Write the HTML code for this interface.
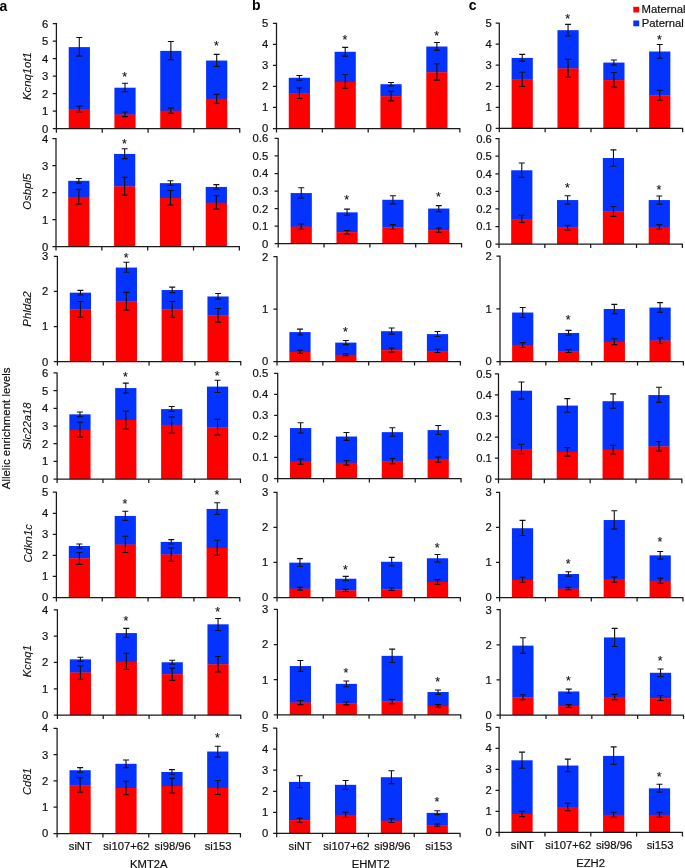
<!DOCTYPE html>
<html lang="en">
<head>
<meta charset="utf-8">
<title>Allelic enrichment levels</title>
<style>
html,body{margin:0;padding:0;background:#fff;}
body{width:685px;height:868px;overflow:hidden;}
svg{display:block;will-change:transform;}
text{font-family:"Liberation Sans",Arial,Helvetica,sans-serif;font-size:11.25px;fill:#111;stroke:#111;stroke-width:0.2px;}
.t{text-anchor:end;}
.x{text-anchor:middle;}
.g{text-anchor:middle;font-style:italic;font-size:11.35px;stroke-width:0.1px;}
.yl{text-anchor:middle;font-size:11.42px;}
.lg{font-size:11.3px;}
.s{text-anchor:middle;font-size:12.5px;stroke-width:0.12px;}
.pl{font-weight:bold;font-size:14px;fill:#000;stroke:none;}
.a{stroke:#1a1a1a;stroke-width:1.25;fill:none;}
.e{stroke:#111;stroke-width:1.1;fill:none;}
</style>
</head>
<body>
<svg width="685" height="868" viewBox="0 0 685 868">
<rect x="0" y="0" width="685" height="868" fill="#fff"/>
<g>
<rect x="68.71" y="47.12" width="21.2" height="62.2" fill="#0432ff"/>
<rect x="68.71" y="109.01" width="21.2" height="19.64" fill="#ff0000"/>
<path d="M79.31 37.48V56.17M76.31 37.48H82.31M76.31 56.17H82.31" class="e"/>
<path d="M79.31 106.09V111.93M76.31 106.09H82.31M76.31 111.93H82.31" class="e"/>
<rect x="114.41" y="87.7" width="21.2" height="27.16" fill="#0432ff"/>
<rect x="114.41" y="114.56" width="21.2" height="14.09" fill="#ff0000"/>
<path d="M125.01 83.32V91.79M122.01 83.32H128.01M122.01 91.79H128.01" class="e"/>
<path d="M125.01 111.93V116.61M122.01 111.93H128.01M122.01 116.61H128.01" class="e"/>
<text x="124.71" y="80.95" class="s">*</text>
<rect x="160.25" y="50.91" width="21.2" height="60.15" fill="#0432ff"/>
<rect x="160.25" y="110.77" width="21.2" height="17.88" fill="#ff0000"/>
<path d="M170.85 41.57V59.67M167.85 41.57H173.85M167.85 59.67H173.85" class="e"/>
<path d="M170.85 108.14V113.39M167.85 108.14H173.85M167.85 113.39H173.85" class="e"/>
<rect x="206.09" y="60.55" width="21.2" height="38.55" fill="#0432ff"/>
<rect x="206.09" y="98.8" width="21.2" height="29.85" fill="#ff0000"/>
<path d="M216.69 54.42V66.39M213.69 54.42H219.69M213.69 66.39H219.69" class="e"/>
<path d="M216.69 94.42V103.18M213.69 94.42H219.69M213.69 103.18H219.69" class="e"/>
<text x="216.39" y="50.3" class="s">*</text>
<path d="M56.4 23.1V129.15M52.8 128.65H240.26M52.8 111.14H56.4M52.8 93.63H56.4M52.8 76.12H56.4M52.8 58.62H56.4M52.8 41.11H56.4M52.8 23.6H56.4M56.4 128.65V132.65M102.24 128.65V132.65M148.08 128.65V132.65M193.92 128.65V132.65M239.76 128.65V132.65" class="a"/>
<text x="48.35" y="132.6" class="t">0</text>
<text x="48.35" y="115.09" class="t">1</text>
<text x="48.35" y="97.58" class="t">2</text>
<text x="48.35" y="80.08" class="t">3</text>
<text x="48.35" y="62.57" class="t">4</text>
<text x="48.35" y="45.06" class="t">5</text>
<text x="48.35" y="27.55" class="t">6</text>
</g>
<g>
<rect x="68.22" y="180.8" width="21.2" height="16.36" fill="#0432ff"/>
<rect x="68.22" y="196.86" width="21.2" height="49.74" fill="#ff0000"/>
<path d="M78.82 178.47V183.14M75.82 178.47H81.82M75.82 183.14H81.82" class="e"/>
<path d="M78.82 189.27V204.16M75.82 189.27H81.82M75.82 204.16H81.82" class="e"/>
<rect x="114.06" y="153.94" width="21.2" height="32.71" fill="#0432ff"/>
<rect x="114.06" y="186.35" width="21.2" height="60.25" fill="#ff0000"/>
<path d="M124.66 148.69V158.61M121.66 148.69H127.66M121.66 158.61H127.66" class="e"/>
<path d="M124.66 177.3V195.11M121.66 177.3H127.66M121.66 195.11H127.66" class="e"/>
<text x="124.36" y="148.36" class="s">*</text>
<rect x="159.9" y="183.14" width="21.2" height="15.19" fill="#0432ff"/>
<rect x="159.9" y="198.03" width="21.2" height="48.57" fill="#ff0000"/>
<path d="M170.5 180.8V185.18M167.5 180.8H173.5M167.5 185.18H173.5" class="e"/>
<path d="M170.5 190.44V205.04M167.5 190.44H173.5M167.5 205.04H173.5" class="e"/>
<rect x="205.74" y="186.93" width="21.2" height="16.07" fill="#0432ff"/>
<rect x="205.74" y="202.7" width="21.2" height="43.9" fill="#ff0000"/>
<path d="M216.34 184.6V189.27M213.34 184.6H219.34M213.34 189.27H219.34" class="e"/>
<path d="M216.34 195.69V209.12M213.34 195.69H219.34M213.34 209.12H219.34" class="e"/>
<path d="M56 138.1V247.1M52.4 246.6H239.86M52.4 219.6H56M52.4 192.6H56M52.4 165.6H56M52.4 138.6H56M56 246.6V250.6M101.84 246.6V250.6M147.68 246.6V250.6M193.52 246.6V250.6M239.36 246.6V250.6" class="a"/>
<text x="48.35" y="250.55" class="t">0</text>
<text x="48.35" y="223.55" class="t">1</text>
<text x="48.35" y="196.55" class="t">2</text>
<text x="48.35" y="169.55" class="t">3</text>
<text x="48.35" y="142.55" class="t">4</text>
</g>
<g>
<rect x="69.8" y="292.67" width="21.2" height="16.94" fill="#0432ff"/>
<rect x="69.8" y="309.31" width="21.2" height="52.29" fill="#ff0000"/>
<path d="M80.4 290.34V295.01M77.4 290.34H83.4M77.4 295.01H83.4" class="e"/>
<path d="M80.4 301.43V317.2M77.4 301.43H83.4M77.4 317.2H83.4" class="e"/>
<rect x="115.78" y="267.56" width="21.2" height="33.88" fill="#0432ff"/>
<rect x="115.78" y="301.14" width="21.2" height="60.46" fill="#ff0000"/>
<path d="M126.38 262.31V272.23M123.38 262.31H129.38M123.38 272.23H129.38" class="e"/>
<path d="M126.38 292.38V310.19M123.38 292.38H129.38M123.38 310.19H129.38" class="e"/>
<text x="126.08" y="261.69" class="s">*</text>
<rect x="161.62" y="290.04" width="21.2" height="19.57" fill="#0432ff"/>
<rect x="161.62" y="309.31" width="21.2" height="52.29" fill="#ff0000"/>
<path d="M172.22 287.12V292.67M169.22 287.12H175.22M169.22 292.67H175.22" class="e"/>
<path d="M172.22 301.43V317.2M169.22 301.43H175.22M169.22 317.2H175.22" class="e"/>
<rect x="207.46" y="296.47" width="21.2" height="19.28" fill="#0432ff"/>
<rect x="207.46" y="315.45" width="21.2" height="46.15" fill="#ff0000"/>
<path d="M218.06 293.55V299.09M215.06 293.55H221.06M215.06 299.09H221.06" class="e"/>
<path d="M218.06 308.44V322.16M215.06 308.44H221.06M215.06 322.16H221.06" class="e"/>
<path d="M57.4 255.9V362.1M53.8 361.6H241.26M53.8 326.53H57.4M53.8 291.47H57.4M53.8 256.4H57.4M57.4 361.6V365.6M103.24 361.6V365.6M149.08 361.6V365.6M194.92 361.6V365.6M240.76 361.6V365.6" class="a"/>
<text x="48.35" y="365.55" class="t">0</text>
<text x="48.35" y="330.48" class="t">1</text>
<text x="48.35" y="295.42" class="t">2</text>
<text x="48.35" y="260.35" class="t">3</text>
</g>
<g>
<rect x="69.36" y="414.34" width="21.2" height="15.77" fill="#0432ff"/>
<rect x="69.36" y="429.82" width="21.2" height="49.28" fill="#ff0000"/>
<path d="M79.96 412.01V416.68M76.96 412.01H82.96M76.96 416.68H82.96" class="e"/>
<path d="M79.96 422.23V437.12M76.96 422.23H82.96M76.96 437.12H82.96" class="e"/>
<rect x="115.19" y="388.07" width="21.2" height="32.12" fill="#0432ff"/>
<rect x="115.19" y="419.89" width="21.2" height="59.21" fill="#ff0000"/>
<path d="M125.79 383.1V393.03M122.79 383.1H128.79M122.79 393.03H128.79" class="e"/>
<path d="M125.79 411.13V428.94M122.79 411.13H128.79M122.79 428.94H128.79" class="e"/>
<text x="125.49" y="381.32" class="s">*</text>
<rect x="161.11" y="409.09" width="21.2" height="16.07" fill="#0432ff"/>
<rect x="161.11" y="424.85" width="21.2" height="54.25" fill="#ff0000"/>
<path d="M171.71 406.46V411.42M168.71 406.46H174.71M168.71 411.42H174.71" class="e"/>
<path d="M171.71 416.97V433.03M168.71 416.97H174.71M168.71 433.03H174.71" class="e"/>
<rect x="206.95" y="386.61" width="21.2" height="40.88" fill="#0432ff"/>
<rect x="206.95" y="427.19" width="21.2" height="51.91" fill="#ff0000"/>
<path d="M217.55 380.18V392.45M214.55 380.18H220.55M214.55 392.45H220.55" class="e"/>
<path d="M217.55 419.31V435.07M214.55 419.31H220.55M214.55 435.07H220.55" class="e"/>
<text x="217.25" y="379.57" class="s">*</text>
<path d="M57.1 372.4V479.6M53.5 479.1H240.96M53.5 461.4H57.1M53.5 443.7H57.1M53.5 426H57.1M53.5 408.3H57.1M53.5 390.6H57.1M53.5 372.9H57.1M57.1 479.1V483.1M102.94 479.1V483.1M148.78 479.1V483.1M194.62 479.1V483.1M240.46 479.1V483.1" class="a"/>
<text x="48.35" y="483.05" class="t">0</text>
<text x="48.35" y="465.35" class="t">1</text>
<text x="48.35" y="447.65" class="t">2</text>
<text x="48.35" y="429.95" class="t">3</text>
<text x="48.35" y="412.25" class="t">4</text>
<text x="48.35" y="394.55" class="t">5</text>
<text x="48.35" y="376.85" class="t">6</text>
</g>
<g>
<rect x="68.79" y="546.02" width="21.2" height="12.56" fill="#0432ff"/>
<rect x="68.79" y="558.28" width="21.2" height="39.22" fill="#ff0000"/>
<path d="M79.39 543.98V548.07M76.39 543.98H82.39M76.39 548.07H82.39" class="e"/>
<path d="M79.39 552.45V564.42M76.39 552.45H82.39M76.39 564.42H82.39" class="e"/>
<rect x="114.7" y="515.95" width="21.2" height="28.91" fill="#0432ff"/>
<rect x="114.7" y="544.56" width="21.2" height="52.94" fill="#ff0000"/>
<path d="M125.3 511.28V520.33M122.3 511.28H128.3M122.3 520.33H128.3" class="e"/>
<path d="M125.3 536.39V552.45M122.3 536.39H128.3M122.3 552.45H128.3" class="e"/>
<text x="125" y="508.03" class="s">*</text>
<rect x="160.68" y="541.93" width="21.2" height="12.85" fill="#0432ff"/>
<rect x="160.68" y="554.49" width="21.2" height="43.01" fill="#ff0000"/>
<path d="M171.28 539.6V543.98M168.28 539.6H174.28M168.28 543.98H174.28" class="e"/>
<path d="M171.28 548.07V561.2M168.28 548.07H174.28M168.28 561.2H174.28" class="e"/>
<rect x="206.6" y="508.94" width="21.2" height="39.13" fill="#0432ff"/>
<rect x="206.6" y="547.77" width="21.2" height="49.73" fill="#ff0000"/>
<path d="M217.2 502.81V514.49M214.2 502.81H220.2M214.2 514.49H220.2" class="e"/>
<path d="M217.2 540.18V555.36M214.2 540.18H220.2M214.2 555.36H220.2" class="e"/>
<text x="216.9" y="499.28" class="s">*</text>
<path d="M56.4 491.7V598M52.8 597.5H240.26M52.8 576.44H56.4M52.8 555.38H56.4M52.8 534.32H56.4M52.8 513.26H56.4M52.8 492.2H56.4M56.4 597.5V601.5M102.24 597.5V601.5M148.08 597.5V601.5M193.92 597.5V601.5M239.76 597.5V601.5" class="a"/>
<text x="48.35" y="601.45" class="t">0</text>
<text x="48.35" y="580.39" class="t">1</text>
<text x="48.35" y="559.33" class="t">2</text>
<text x="48.35" y="538.27" class="t">3</text>
<text x="48.35" y="517.21" class="t">4</text>
<text x="48.35" y="496.15" class="t">5</text>
</g>
<g>
<rect x="69.8" y="659.35" width="21.2" height="13.44" fill="#0432ff"/>
<rect x="69.8" y="672.49" width="21.2" height="42.61" fill="#ff0000"/>
<path d="M80.4 657.31V661.39M77.4 657.31H83.4M77.4 661.39H83.4" class="e"/>
<path d="M80.4 666.07V679.2M77.4 666.07H83.4M77.4 679.2H83.4" class="e"/>
<rect x="115.71" y="633.07" width="21.2" height="28.91" fill="#0432ff"/>
<rect x="115.71" y="661.69" width="21.2" height="53.41" fill="#ff0000"/>
<path d="M126.31 628.4V637.45M123.31 628.4H129.31M123.31 637.45H129.31" class="e"/>
<path d="M126.31 653.22V669.57M123.31 653.22H129.31M123.31 669.57H129.31" class="e"/>
<text x="126.01" y="624.87" class="s">*</text>
<rect x="161.62" y="662.27" width="21.2" height="12.27" fill="#0432ff"/>
<rect x="161.62" y="674.24" width="21.2" height="40.86" fill="#ff0000"/>
<path d="M172.22 660.23V664.31M169.22 660.23H175.22M169.22 664.31H175.22" class="e"/>
<path d="M172.22 668.11V680.37M169.22 668.11H175.22M169.22 680.37H175.22" class="e"/>
<rect x="207.46" y="624.31" width="21.2" height="40.3" fill="#0432ff"/>
<rect x="207.46" y="664.31" width="21.2" height="50.79" fill="#ff0000"/>
<path d="M218.06 618.47V630.45M215.06 618.47H221.06M215.06 630.45H221.06" class="e"/>
<path d="M218.06 656.43V671.91M215.06 656.43H221.06M215.06 671.91H221.06" class="e"/>
<text x="217.76" y="615.52" class="s">*</text>
<path d="M57.4 609.25V715.6M53.8 715.1H241.26M53.8 688.76H57.4M53.8 662.42H57.4M53.8 636.09H57.4M53.8 609.75H57.4M57.4 715.1V719.1M103.24 715.1V719.1M149.08 715.1V719.1M194.92 715.1V719.1M240.76 715.1V719.1" class="a"/>
<text x="48.35" y="719.05" class="t">0</text>
<text x="48.35" y="692.71" class="t">1</text>
<text x="48.35" y="666.38" class="t">2</text>
<text x="48.35" y="640.04" class="t">3</text>
<text x="48.35" y="613.7" class="t">4</text>
</g>
<g>
<rect x="69.5" y="770.22" width="21.2" height="15.19" fill="#0432ff"/>
<rect x="69.5" y="785.11" width="21.2" height="48.39" fill="#ff0000"/>
<path d="M80.1 767.59V772.26M77.1 767.59H83.1M77.1 772.26H83.1" class="e"/>
<path d="M80.1 777.81V792.12M77.1 777.81H83.1M77.1 792.12H83.1" class="e"/>
<rect x="115.41" y="763.8" width="21.2" height="24.53" fill="#0432ff"/>
<rect x="115.41" y="788.03" width="21.2" height="45.47" fill="#ff0000"/>
<path d="M126.01 760V767.59M123.01 760H129.01M123.01 767.59H129.01" class="e"/>
<path d="M126.01 781.31V794.74M123.01 781.31H129.01M123.01 794.74H129.01" class="e"/>
<rect x="161.33" y="771.97" width="21.2" height="14.31" fill="#0432ff"/>
<rect x="161.33" y="785.99" width="21.2" height="47.51" fill="#ff0000"/>
<path d="M171.93 769.64V774.31M168.93 769.64H174.93M168.93 774.31H174.93" class="e"/>
<path d="M171.93 778.39V792.99M168.93 778.39H174.93M168.93 792.99H174.93" class="e"/>
<rect x="207.17" y="751.53" width="21.2" height="36.5" fill="#0432ff"/>
<rect x="207.17" y="787.74" width="21.2" height="45.76" fill="#ff0000"/>
<path d="M217.77 746.28V757.08M214.77 746.28H220.77M214.77 757.08H220.77" class="e"/>
<path d="M217.77 780.44V794.45M214.77 780.44H220.77M214.77 794.45H220.77" class="e"/>
<text x="217.47" y="741.57" class="s">*</text>
<path d="M57.1 727.9V834M53.5 833.5H240.96M53.5 807.23H57.1M53.5 780.95H57.1M53.5 754.67H57.1M53.5 728.4H57.1M57.1 833.5V837.5M102.94 833.5V837.5M148.78 833.5V837.5M194.62 833.5V837.5M240.46 833.5V837.5" class="a"/>
<text x="48.35" y="837.45" class="t">0</text>
<text x="48.35" y="811.18" class="t">1</text>
<text x="48.35" y="784.9" class="t">2</text>
<text x="48.35" y="758.62" class="t">3</text>
<text x="48.35" y="732.35" class="t">4</text>
</g>
<g>
<rect x="288.76" y="77.77" width="21.2" height="16.07" fill="#0432ff"/>
<rect x="288.76" y="93.54" width="21.2" height="34.96" fill="#ff0000"/>
<path d="M299.36 75.44V80.11M296.36 75.44H302.36M296.36 80.11H302.36" class="e"/>
<path d="M299.36 87.99V98.5M296.36 87.99H302.36M296.36 98.5H302.36" class="e"/>
<rect x="334.6" y="51.79" width="21.2" height="30.37" fill="#0432ff"/>
<rect x="334.6" y="81.86" width="21.2" height="46.64" fill="#ff0000"/>
<path d="M345.2 47.41V56.17M342.2 47.41H348.2M342.2 56.17H348.2" class="e"/>
<path d="M345.2 74.56V88.28M342.2 74.56H348.2M342.2 88.28H348.2" class="e"/>
<text x="344.9" y="43.87" class="s">*</text>
<rect x="380.44" y="84.2" width="21.2" height="12.27" fill="#0432ff"/>
<rect x="380.44" y="96.17" width="21.2" height="32.33" fill="#ff0000"/>
<path d="M391.04 82.45V85.95M388.04 82.45H394.04M388.04 85.95H394.04" class="e"/>
<path d="M391.04 91.2V100.84M388.04 91.2H394.04M388.04 100.84H394.04" class="e"/>
<rect x="426.28" y="46.53" width="21.2" height="25.99" fill="#0432ff"/>
<rect x="426.28" y="72.23" width="21.2" height="56.27" fill="#ff0000"/>
<path d="M436.88 42.45V50.33M433.88 42.45H439.88M433.88 50.33H439.88" class="e"/>
<path d="M436.88 63.76V80.11M433.88 63.76H439.88M433.88 80.11H439.88" class="e"/>
<text x="436.58" y="40.08" class="s">*</text>
<path d="M276.5 22.8V129M272.9 128.5H460.36M272.9 107.46H276.5M272.9 86.42H276.5M272.9 65.38H276.5M272.9 44.34H276.5M272.9 23.3H276.5M276.5 128.5V132.5M322.34 128.5V132.5M368.18 128.5V132.5M414.02 128.5V132.5M459.86 128.5V132.5" class="a"/>
<text x="268.25" y="132.45" class="t">0</text>
<text x="268.25" y="111.41" class="t">1</text>
<text x="268.25" y="90.37" class="t">2</text>
<text x="268.25" y="69.33" class="t">3</text>
<text x="268.25" y="48.29" class="t">4</text>
<text x="268.25" y="27.25" class="t">5</text>
</g>
<g>
<rect x="290.64" y="193.07" width="21.2" height="33.88" fill="#0432ff"/>
<rect x="290.64" y="226.64" width="21.2" height="16.96" fill="#ff0000"/>
<path d="M301.24 187.81V198.03M298.24 187.81H304.24M298.24 198.03H304.24" class="e"/>
<path d="M301.24 224.01V229.27M298.24 224.01H304.24M298.24 229.27H304.24" class="e"/>
<rect x="336.47" y="212.34" width="21.2" height="20.15" fill="#0432ff"/>
<rect x="336.47" y="232.19" width="21.2" height="11.41" fill="#ff0000"/>
<path d="M347.07 209.12V215.26M344.07 209.12H350.07M344.07 215.26H350.07" class="e"/>
<path d="M347.07 230.44V233.94M344.07 230.44H350.07M344.07 233.94H350.07" class="e"/>
<text x="346.77" y="203.84" class="s">*</text>
<rect x="382.31" y="199.78" width="21.2" height="27.75" fill="#0432ff"/>
<rect x="382.31" y="227.23" width="21.2" height="16.37" fill="#ff0000"/>
<path d="M392.91 195.69V203.87M389.91 195.69H395.91M389.91 203.87H395.91" class="e"/>
<path d="M392.91 224.6V229.56M389.91 224.6H395.91M389.91 229.56H395.91" class="e"/>
<rect x="428.15" y="208.54" width="21.2" height="21.91" fill="#0432ff"/>
<rect x="428.15" y="230.15" width="21.2" height="13.45" fill="#ff0000"/>
<path d="M438.75 205.62V211.75M435.75 205.62H441.75M435.75 211.75H441.75" class="e"/>
<path d="M438.75 228.1V232.19M435.75 228.1H441.75M435.75 232.19H441.75" class="e"/>
<text x="438.45" y="200.92" class="s">*</text>
<path d="M278.2 137.95V244.1M274.6 243.6H462.06M274.6 226.07H278.2M274.6 208.55H278.2M274.6 191.02H278.2M274.6 173.5H278.2M274.6 155.97H278.2M274.6 138.45H278.2M278.2 243.6V247.6M324.04 243.6V247.6M369.88 243.6V247.6M415.72 243.6V247.6M461.56 243.6V247.6" class="a"/>
<text x="268.25" y="247.55" class="t">0</text>
<text x="268.25" y="230.02" class="t">0.1</text>
<text x="268.25" y="212.5" class="t">0.2</text>
<text x="268.25" y="194.97" class="t">0.3</text>
<text x="268.25" y="177.45" class="t">0.4</text>
<text x="268.25" y="159.92" class="t">0.5</text>
<text x="268.25" y="142.4" class="t">0.6</text>
</g>
<g>
<rect x="289.38" y="332.09" width="21.2" height="20.15" fill="#0432ff"/>
<rect x="289.38" y="351.94" width="21.2" height="9.56" fill="#ff0000"/>
<path d="M299.98 329.17V335.01M296.98 329.17H302.98M296.98 335.01H302.98" class="e"/>
<path d="M299.98 350.19V353.4M296.98 350.19H302.98M296.98 353.4H302.98" class="e"/>
<rect x="335.22" y="342.6" width="21.2" height="12.56" fill="#0432ff"/>
<rect x="335.22" y="354.86" width="21.2" height="6.64" fill="#ff0000"/>
<path d="M345.82 340.55V344.64M342.82 340.55H348.82M342.82 344.64H348.82" class="e"/>
<path d="M345.82 353.69V355.74M342.82 353.69H348.82M342.82 355.74H348.82" class="e"/>
<text x="345.52" y="335.85" class="s">*</text>
<rect x="381.06" y="331.21" width="21.2" height="19.28" fill="#0432ff"/>
<rect x="381.06" y="350.19" width="21.2" height="11.31" fill="#ff0000"/>
<path d="M391.66 328V334.13M388.66 328H394.66M388.66 334.13H394.66" class="e"/>
<path d="M391.66 348.15V351.94M388.66 348.15H394.66M388.66 351.94H394.66" class="e"/>
<rect x="426.9" y="334.13" width="21.2" height="17.23" fill="#0432ff"/>
<rect x="426.9" y="351.07" width="21.2" height="10.43" fill="#ff0000"/>
<path d="M437.5 331.5V336.47M434.5 331.5H440.5M434.5 336.47H440.5" class="e"/>
<path d="M437.5 349.31V352.53M434.5 349.31H440.5M434.5 352.53H440.5" class="e"/>
<path d="M277 256.2V362M273.4 361.5H460.86M273.4 309.1H277M273.4 256.7H277M277 361.5V365.5M322.84 361.5V365.5M368.68 361.5V365.5M414.52 361.5V365.5M460.36 361.5V365.5" class="a"/>
<text x="268.25" y="365.45" class="t">0</text>
<text x="268.25" y="313.05" class="t">1</text>
<text x="268.25" y="260.65" class="t">2</text>
</g>
<g>
<rect x="290.02" y="428.07" width="21.2" height="33.88" fill="#0432ff"/>
<rect x="290.02" y="461.64" width="21.2" height="16.86" fill="#ff0000"/>
<path d="M300.62 422.81V433.03M297.62 422.81H303.62M297.62 433.03H303.62" class="e"/>
<path d="M300.62 459.01V464.27M297.62 459.01H303.62M297.62 464.27H303.62" class="e"/>
<rect x="335.86" y="436.53" width="21.2" height="26.58" fill="#0432ff"/>
<rect x="335.86" y="462.81" width="21.2" height="15.69" fill="#ff0000"/>
<path d="M346.46 432.45V440.33M343.46 432.45H349.46M343.46 440.33H349.46" class="e"/>
<path d="M346.46 460.47V465.15M343.46 460.47H349.46M343.46 465.15H349.46" class="e"/>
<rect x="381.77" y="432.15" width="21.2" height="29.21" fill="#0432ff"/>
<rect x="381.77" y="461.06" width="21.2" height="17.44" fill="#ff0000"/>
<path d="M392.37 427.77V436.24M389.37 427.77H395.37M389.37 436.24H395.37" class="e"/>
<path d="M392.37 458.43V463.69M389.37 458.43H395.37M389.37 463.69H395.37" class="e"/>
<rect x="427.61" y="430.11" width="21.2" height="29.79" fill="#0432ff"/>
<rect x="427.61" y="459.6" width="21.2" height="18.9" fill="#ff0000"/>
<path d="M438.21 425.44V434.49M435.21 425.44H441.21M435.21 434.49H441.21" class="e"/>
<path d="M438.21 456.97V462.23M435.21 456.97H441.21M435.21 462.23H441.21" class="e"/>
<path d="M277.7 372.8V479M274.1 478.5H461.56M274.1 457.46H277.7M274.1 436.42H277.7M274.1 415.38H277.7M274.1 394.34H277.7M274.1 373.3H277.7M277.7 478.5V482.5M323.54 478.5V482.5M369.38 478.5V482.5M415.22 478.5V482.5M461.06 478.5V482.5" class="a"/>
<text x="268.25" y="482.45" class="t">0</text>
<text x="268.25" y="461.41" class="t">0.1</text>
<text x="268.25" y="440.37" class="t">0.2</text>
<text x="268.25" y="419.33" class="t">0.3</text>
<text x="268.25" y="398.29" class="t">0.4</text>
<text x="268.25" y="377.25" class="t">0.5</text>
</g>
<g>
<rect x="289.31" y="562.66" width="21.2" height="26.29" fill="#0432ff"/>
<rect x="289.31" y="588.65" width="21.2" height="8.85" fill="#ff0000"/>
<path d="M299.91 558.58V566.46M296.91 558.58H302.91M296.91 566.46H302.91" class="e"/>
<path d="M299.91 587.19V590.11M296.91 587.19H302.91M296.91 590.11H302.91" class="e"/>
<rect x="335.14" y="578.72" width="21.2" height="11.98" fill="#0432ff"/>
<rect x="335.14" y="590.4" width="21.2" height="7.1" fill="#ff0000"/>
<path d="M345.74 576.39V580.77M342.74 576.39H348.74M342.74 580.77H348.74" class="e"/>
<path d="M345.74 589.23V591.57M342.74 589.23H348.74M342.74 591.57H348.74" class="e"/>
<text x="345.44" y="573.73" class="s">*</text>
<rect x="381.06" y="561.79" width="21.2" height="27.75" fill="#0432ff"/>
<rect x="381.06" y="589.23" width="21.2" height="8.27" fill="#ff0000"/>
<path d="M391.66 557.41V565.88M388.66 557.41H394.66M388.66 565.88H394.66" class="e"/>
<path d="M391.66 587.77V590.4M388.66 587.77H394.66M388.66 590.4H394.66" class="e"/>
<rect x="426.9" y="558.28" width="21.2" height="23.95" fill="#0432ff"/>
<rect x="426.9" y="581.93" width="21.2" height="15.57" fill="#ff0000"/>
<path d="M437.5 554.49V562.08M434.5 554.49H440.5M434.5 562.08H440.5" class="e"/>
<path d="M437.5 579.6V584.27M434.5 579.6H440.5M434.5 584.27H440.5" class="e"/>
<text x="437.2" y="551.83" class="s">*</text>
<path d="M277 491.75V598M273.4 597.5H460.86M273.4 562.42H277M273.4 527.33H277M273.4 492.25H277M277 597.5V601.5M322.84 597.5V601.5M368.68 597.5V601.5M414.52 597.5V601.5M460.36 597.5V601.5" class="a"/>
<text x="268.25" y="601.45" class="t">0</text>
<text x="268.25" y="566.37" class="t">1</text>
<text x="268.25" y="531.28" class="t">2</text>
<text x="268.25" y="496.2" class="t">3</text>
</g>
<g>
<rect x="289.8" y="666.07" width="21.2" height="36.8" fill="#0432ff"/>
<rect x="289.8" y="702.56" width="21.2" height="12.24" fill="#ff0000"/>
<path d="M300.4 660.52V671.32M297.4 660.52H303.4M297.4 671.32H303.4" class="e"/>
<path d="M300.4 700.52V704.61M297.4 700.52H303.4M297.4 704.61H303.4" class="e"/>
<rect x="335.71" y="683.88" width="21.2" height="19.57" fill="#0432ff"/>
<rect x="335.71" y="703.15" width="21.2" height="11.65" fill="#ff0000"/>
<path d="M346.31 680.96V686.8M343.31 680.96H349.31M343.31 686.8H349.31" class="e"/>
<path d="M346.31 701.69V704.9M343.31 701.69H349.31M343.31 704.9H349.31" class="e"/>
<text x="346.01" y="677.42" class="s">*</text>
<rect x="381.55" y="655.85" width="21.2" height="45.85" fill="#0432ff"/>
<rect x="381.55" y="701.39" width="21.2" height="13.41" fill="#ff0000"/>
<path d="M392.15 649.13V662.56M389.15 649.13H395.15M389.15 662.56H395.15" class="e"/>
<path d="M392.15 699.35V703.73M389.15 699.35H395.15M389.15 703.73H395.15" class="e"/>
<rect x="427.46" y="692.05" width="21.2" height="14.02" fill="#0432ff"/>
<rect x="427.46" y="705.77" width="21.2" height="9.03" fill="#ff0000"/>
<path d="M438.06 690.01V694.39M435.06 690.01H441.06M435.06 694.39H441.06" class="e"/>
<path d="M438.06 704.61V707.23M435.06 704.61H441.06M435.06 707.23H441.06" class="e"/>
<text x="437.76" y="686.18" class="s">*</text>
<path d="M277.4 608.9V715.3M273.8 714.8H461.26M273.8 679.67H277.4M273.8 644.53H277.4M273.8 609.4H277.4M277.4 714.8V718.8M323.24 714.8V718.8M369.08 714.8V718.8M414.92 714.8V718.8M460.76 714.8V718.8" class="a"/>
<text x="268.25" y="718.75" class="t">0</text>
<text x="268.25" y="683.62" class="t">1</text>
<text x="268.25" y="648.48" class="t">2</text>
<text x="268.25" y="613.35" class="t">3</text>
</g>
<g>
<rect x="289.01" y="781.9" width="21.2" height="38.55" fill="#0432ff"/>
<rect x="289.01" y="820.15" width="21.2" height="13.15" fill="#ff0000"/>
<path d="M299.61 775.77V787.74M296.61 775.77H302.61M296.61 787.74H302.61" class="e"/>
<path d="M299.61 818.1V822.19M296.61 818.1H302.61M296.61 822.19H302.61" class="e"/>
<rect x="334.99" y="784.82" width="21.2" height="30.37" fill="#0432ff"/>
<rect x="334.99" y="814.89" width="21.2" height="18.41" fill="#ff0000"/>
<path d="M345.59 780.44V789.2M342.59 780.44H348.59M342.59 789.2H348.59" class="e"/>
<path d="M345.59 812.26V817.52M342.59 812.26H348.59M342.59 817.52H348.59" class="e"/>
<rect x="380.83" y="777.23" width="21.2" height="43.8" fill="#0432ff"/>
<rect x="380.83" y="820.73" width="21.2" height="12.57" fill="#ff0000"/>
<path d="M391.43 770.8V783.65M388.43 770.8H394.43M388.43 783.65H394.43" class="e"/>
<path d="M391.43 818.69V822.48M388.43 818.69H394.43M388.43 822.48H394.43" class="e"/>
<rect x="426.67" y="812.85" width="21.2" height="12.56" fill="#0432ff"/>
<rect x="426.67" y="825.11" width="21.2" height="8.19" fill="#ff0000"/>
<path d="M437.27 810.8V814.6M434.27 810.8H440.27M434.27 814.6H440.27" class="e"/>
<path d="M437.27 823.94V826.28M434.27 823.94H440.27M434.27 826.28H440.27" class="e"/>
<text x="436.97" y="806.39" class="s">*</text>
<path d="M276.7 727.7V833.8M273.1 833.3H460.56M273.1 812.28H276.7M273.1 791.26H276.7M273.1 770.24H276.7M273.1 749.22H276.7M273.1 728.2H276.7M276.7 833.3V837.3M322.54 833.3V837.3M368.38 833.3V837.3M414.22 833.3V837.3M460.06 833.3V837.3" class="a"/>
<text x="268.25" y="837.25" class="t">0</text>
<text x="268.25" y="816.23" class="t">1</text>
<text x="268.25" y="795.21" class="t">2</text>
<text x="268.25" y="774.19" class="t">3</text>
<text x="268.25" y="753.17" class="t">4</text>
<text x="268.25" y="732.15" class="t">5</text>
</g>
<g>
<rect x="511.62" y="57.92" width="21.2" height="21.91" fill="#0432ff"/>
<rect x="511.62" y="79.53" width="21.2" height="48.77" fill="#ff0000"/>
<path d="M522.22 54.42V61.13M519.22 54.42H525.22M519.22 61.13H525.22" class="e"/>
<path d="M522.22 72.23V86.53M519.22 72.23H525.22M519.22 86.53H525.22" class="e"/>
<rect x="557.46" y="30.18" width="21.2" height="38.55" fill="#0432ff"/>
<rect x="557.46" y="68.43" width="21.2" height="59.87" fill="#ff0000"/>
<path d="M568.06 24.34V36.02M565.06 24.34H571.06M565.06 36.02H571.06" class="e"/>
<path d="M568.06 59.38V77.19M565.06 59.38H571.06M565.06 77.19H571.06" class="e"/>
<text x="567.76" y="22.85" class="s">*</text>
<rect x="603.3" y="62.59" width="21.2" height="17.82" fill="#0432ff"/>
<rect x="603.3" y="80.11" width="21.2" height="48.19" fill="#ff0000"/>
<path d="M613.9 59.96V64.93M610.9 59.96H616.9M610.9 64.93H616.9" class="e"/>
<path d="M613.9 72.52V87.12M610.9 72.52H616.9M610.9 87.12H616.9" class="e"/>
<rect x="649.14" y="51.5" width="21.2" height="44.1" fill="#0432ff"/>
<rect x="649.14" y="95.29" width="21.2" height="33.01" fill="#ff0000"/>
<path d="M659.74 44.49V58.21M656.74 44.49H662.74M656.74 58.21H662.74" class="e"/>
<path d="M659.74 90.33V100.26M656.74 90.33H662.74M656.74 100.26H662.74" class="e"/>
<text x="659.44" y="44.17" class="s">*</text>
<path d="M499.3 22.7V128.8M495.7 128.3H683.16M495.7 107.28H499.3M495.7 86.26H499.3M495.7 65.24H499.3M495.7 44.22H499.3M495.7 23.2H499.3M499.3 128.3V132.3M545.14 128.3V132.3M590.98 128.3V132.3M636.82 128.3V132.3M682.66 128.3V132.3" class="a"/>
<text x="491.85" y="132.25" class="t">0</text>
<text x="491.85" y="111.23" class="t">1</text>
<text x="491.85" y="90.21" class="t">2</text>
<text x="491.85" y="69.19" class="t">3</text>
<text x="491.85" y="48.17" class="t">4</text>
<text x="491.85" y="27.15" class="t">5</text>
</g>
<g>
<rect x="511.18" y="170.29" width="21.2" height="49.06" fill="#0432ff"/>
<rect x="511.18" y="219.05" width="21.2" height="25.05" fill="#ff0000"/>
<path d="M521.78 162.99V177.3M518.78 162.99H524.78M518.78 177.3H524.78" class="e"/>
<path d="M521.78 215.26V222.55M518.78 215.26H524.78M518.78 222.55H524.78" class="e"/>
<rect x="557.02" y="200.07" width="21.2" height="27.75" fill="#0432ff"/>
<rect x="557.02" y="227.52" width="21.2" height="16.58" fill="#ff0000"/>
<path d="M567.62 195.69V204.16M564.62 195.69H570.62M564.62 204.16H570.62" class="e"/>
<path d="M567.62 225.18V230.15M564.62 225.18H570.62M564.62 230.15H570.62" class="e"/>
<text x="567.32" y="192.16" class="s">*</text>
<rect x="602.86" y="158.03" width="21.2" height="53.73" fill="#0432ff"/>
<rect x="602.86" y="211.46" width="21.2" height="32.64" fill="#ff0000"/>
<path d="M613.46 149.85V166.2M610.46 149.85H616.46M610.46 166.2H616.46" class="e"/>
<path d="M613.46 206.5V216.42M610.46 206.5H616.46M610.46 216.42H616.46" class="e"/>
<rect x="648.7" y="200.07" width="21.2" height="27.16" fill="#0432ff"/>
<rect x="648.7" y="226.93" width="21.2" height="17.17" fill="#ff0000"/>
<path d="M659.3 195.99V204.16M656.3 195.99H662.3M656.3 204.16H662.3" class="e"/>
<path d="M659.3 224.6V229.27M656.3 224.6H662.3M656.3 229.27H662.3" class="e"/>
<text x="659" y="193.62" class="s">*</text>
<path d="M499 138.1V244.6M495.4 244.1H682.86M495.4 226.52H499M495.4 208.93H499M495.4 191.35H499M495.4 173.77H499M495.4 156.18H499M495.4 138.6H499M499 244.1V248.1M544.84 244.1V248.1M590.68 244.1V248.1M636.52 244.1V248.1M682.36 244.1V248.1" class="a"/>
<text x="491.85" y="248.05" class="t">0</text>
<text x="491.85" y="230.47" class="t">0.1</text>
<text x="491.85" y="212.88" class="t">0.2</text>
<text x="491.85" y="195.3" class="t">0.3</text>
<text x="491.85" y="177.72" class="t">0.4</text>
<text x="491.85" y="160.13" class="t">0.5</text>
<text x="491.85" y="142.55" class="t">0.6</text>
</g>
<g>
<rect x="512.12" y="312.53" width="21.2" height="32.71" fill="#0432ff"/>
<rect x="512.12" y="344.93" width="21.2" height="16.57" fill="#ff0000"/>
<path d="M522.72 307.56V317.49M519.72 307.56H525.72M519.72 317.49H525.72" class="e"/>
<path d="M522.72 342.6V347.56M519.72 342.6H525.72M519.72 347.56H525.72" class="e"/>
<rect x="557.96" y="332.96" width="21.2" height="18.4" fill="#0432ff"/>
<rect x="557.96" y="351.07" width="21.2" height="10.43" fill="#ff0000"/>
<path d="M568.56 330.34V335.3M565.56 330.34H571.56M565.56 335.3H571.56" class="e"/>
<path d="M568.56 349.61V352.53M565.56 349.61H571.56M565.56 352.53H571.56" class="e"/>
<text x="568.26" y="324.46" class="s">*</text>
<rect x="603.73" y="309.02" width="21.2" height="33" fill="#0432ff"/>
<rect x="603.73" y="341.72" width="21.2" height="19.78" fill="#ff0000"/>
<path d="M614.33 304.35V313.69M611.33 304.35H617.33M611.33 313.69H617.33" class="e"/>
<path d="M614.33 338.8V344.64M611.33 338.8H617.33M611.33 344.64H617.33" class="e"/>
<rect x="649.49" y="307.56" width="21.2" height="33.29" fill="#0432ff"/>
<rect x="649.49" y="340.55" width="21.2" height="20.95" fill="#ff0000"/>
<path d="M660.09 302.6V312.23M657.09 302.6H663.09M657.09 312.23H663.09" class="e"/>
<path d="M660.09 337.64V343.47M657.09 337.64H663.09M657.09 343.47H663.09" class="e"/>
<path d="M500 255.6V362M496.4 361.5H683.86M496.4 308.8H500M496.4 256.1H500M500 361.5V365.5M545.84 361.5V365.5M591.68 361.5V365.5M637.52 361.5V365.5M683.36 361.5V365.5" class="a"/>
<text x="491.85" y="365.45" class="t">0</text>
<text x="491.85" y="312.75" class="t">1</text>
<text x="491.85" y="260.05" class="t">2</text>
</g>
<g>
<rect x="510.86" y="390.69" width="21.2" height="58.69" fill="#0432ff"/>
<rect x="510.86" y="449.09" width="21.2" height="30.11" fill="#ff0000"/>
<path d="M521.46 381.93V399.16M518.46 381.93H524.46M518.46 399.16H524.46" class="e"/>
<path d="M521.46 444.42V453.76M518.46 444.42H524.46M518.46 453.76H524.46" class="e"/>
<rect x="556.7" y="405.58" width="21.2" height="46.43" fill="#0432ff"/>
<rect x="556.7" y="451.72" width="21.2" height="27.48" fill="#ff0000"/>
<path d="M567.3 398.58V412.3M564.3 398.58H570.3M564.3 412.3H570.3" class="e"/>
<path d="M567.3 447.63V456.09M564.3 447.63H570.3M564.3 456.09H570.3" class="e"/>
<rect x="602.54" y="401.2" width="21.2" height="48.77" fill="#0432ff"/>
<rect x="602.54" y="449.67" width="21.2" height="29.53" fill="#ff0000"/>
<path d="M613.14 393.91V408.21M610.14 393.91H616.14M610.14 408.21H616.14" class="e"/>
<path d="M613.14 445.29V454.05M610.14 445.29H616.14M610.14 454.05H616.14" class="e"/>
<rect x="648.38" y="395.07" width="21.2" height="51.69" fill="#0432ff"/>
<rect x="648.38" y="446.46" width="21.2" height="32.74" fill="#ff0000"/>
<path d="M658.98 387.19V402.37M655.98 387.19H661.98M655.98 402.37H661.98" class="e"/>
<path d="M658.98 441.5V451.13M655.98 441.5H661.98M655.98 451.13H661.98" class="e"/>
<path d="M498.5 373.4V479.7M494.9 479.2H682.36M494.9 458.14H498.5M494.9 437.08H498.5M494.9 416.02H498.5M494.9 394.96H498.5M494.9 373.9H498.5M498.5 479.2V483.2M544.34 479.2V483.2M590.18 479.2V483.2M636.02 479.2V483.2M681.86 479.2V483.2" class="a"/>
<text x="491.85" y="483.15" class="t">0</text>
<text x="491.85" y="462.09" class="t">0.1</text>
<text x="491.85" y="441.03" class="t">0.2</text>
<text x="491.85" y="419.97" class="t">0.3</text>
<text x="491.85" y="398.91" class="t">0.4</text>
<text x="491.85" y="377.85" class="t">0.5</text>
</g>
<g>
<rect x="511.92" y="528.21" width="21.2" height="51.98" fill="#0432ff"/>
<rect x="511.92" y="579.89" width="21.2" height="17.61" fill="#ff0000"/>
<path d="M522.52 520.33V535.51M519.52 520.33H525.52M519.52 535.51H525.52" class="e"/>
<path d="M522.52 577.26V582.23M519.52 577.26H525.52M519.52 582.23H525.52" class="e"/>
<rect x="557.83" y="574.05" width="21.2" height="14.9" fill="#0432ff"/>
<rect x="557.83" y="588.65" width="21.2" height="8.85" fill="#ff0000"/>
<path d="M568.43 571.72V576.09M565.43 571.72H571.43M565.43 576.09H571.43" class="e"/>
<path d="M568.43 587.19V589.82M565.43 587.19H571.43M565.43 589.82H571.43" class="e"/>
<text x="568.13" y="567.89" class="s">*</text>
<rect x="603.67" y="520.04" width="21.2" height="59.86" fill="#0432ff"/>
<rect x="603.67" y="579.6" width="21.2" height="17.9" fill="#ff0000"/>
<path d="M614.27 510.69V529.09M611.27 510.69H617.27M611.27 529.09H617.27" class="e"/>
<path d="M614.27 576.97V582.23M611.27 576.97H617.27M611.27 582.23H617.27" class="e"/>
<rect x="649.58" y="555.36" width="21.2" height="25.7" fill="#0432ff"/>
<rect x="649.58" y="580.77" width="21.2" height="16.73" fill="#ff0000"/>
<path d="M660.18 551.57V559.16M657.18 551.57H663.18M657.18 559.16H663.18" class="e"/>
<path d="M660.18 578.14V583.39M657.18 578.14H663.18M657.18 583.39H663.18" class="e"/>
<text x="659.88" y="546.28" class="s">*</text>
<path d="M499.6 491.75V598M496 597.5H683.46M496 562.42H499.6M496 527.33H499.6M496 492.25H499.6M499.6 597.5V601.5M545.44 597.5V601.5M591.28 597.5V601.5M637.12 597.5V601.5M682.96 597.5V601.5" class="a"/>
<text x="491.85" y="601.45" class="t">0</text>
<text x="491.85" y="566.37" class="t">1</text>
<text x="491.85" y="531.28" class="t">2</text>
<text x="491.85" y="496.2" class="t">3</text>
</g>
<g>
<rect x="512.34" y="645.63" width="21.2" height="51.98" fill="#0432ff"/>
<rect x="512.34" y="697.31" width="21.2" height="17.74" fill="#ff0000"/>
<path d="M522.94 637.74V653.22M519.94 637.74H525.94M519.94 653.22H525.94" class="e"/>
<path d="M522.94 694.68V699.64M519.94 694.68H525.94M519.94 699.64H525.94" class="e"/>
<rect x="558.18" y="691.47" width="21.2" height="14.9" fill="#0432ff"/>
<rect x="558.18" y="706.07" width="21.2" height="8.98" fill="#ff0000"/>
<path d="M568.78 689.13V693.51M565.78 689.13H571.78M565.78 693.51H571.78" class="e"/>
<path d="M568.78 704.61V707.23M565.78 704.61H571.78M565.78 707.23H571.78" class="e"/>
<text x="568.48" y="684.72" class="s">*</text>
<rect x="604.02" y="637.45" width="21.2" height="59.86" fill="#0432ff"/>
<rect x="604.02" y="697.01" width="21.2" height="18.04" fill="#ff0000"/>
<path d="M614.62 628.4V646.5M611.62 628.4H617.62M611.62 646.5H617.62" class="e"/>
<path d="M614.62 694.39V699.64M611.62 694.39H617.62M611.62 699.64H617.62" class="e"/>
<rect x="649.93" y="672.78" width="21.2" height="25.7" fill="#0432ff"/>
<rect x="649.93" y="698.18" width="21.2" height="16.87" fill="#ff0000"/>
<path d="M660.53 668.99V676.58M657.53 668.99H663.53M657.53 676.58H663.53" class="e"/>
<path d="M660.53 695.55V700.52M657.53 695.55H663.53M657.53 700.52H663.53" class="e"/>
<text x="660.23" y="664.87" class="s">*</text>
<path d="M500.15 609.1V715.55M496.55 715.05H684.01M496.55 679.9H500.15M496.55 644.75H500.15M496.55 609.6H500.15M500.15 715.05V719.05M545.99 715.05V719.05M591.83 715.05V719.05M637.67 715.05V719.05M683.51 715.05V719.05" class="a"/>
<text x="491.85" y="719" class="t">0</text>
<text x="491.85" y="683.85" class="t">1</text>
<text x="491.85" y="648.7" class="t">2</text>
<text x="491.85" y="613.55" class="t">3</text>
</g>
<g>
<rect x="511.45" y="760.29" width="21.2" height="54.02" fill="#0432ff"/>
<rect x="511.45" y="814.01" width="21.2" height="18.39" fill="#ff0000"/>
<path d="M522.05 752.12V768.18M519.05 752.12H525.05M519.05 768.18H525.05" class="e"/>
<path d="M522.05 811.39V816.64M519.05 811.39H525.05M519.05 816.64H525.05" class="e"/>
<rect x="557.22" y="765.55" width="21.2" height="41.76" fill="#0432ff"/>
<rect x="557.22" y="807.01" width="21.2" height="25.39" fill="#ff0000"/>
<path d="M567.82 759.12V771.68M564.82 759.12H570.82M564.82 771.68H570.82" class="e"/>
<path d="M567.82 803.21V810.8M564.82 803.21H570.82M564.82 810.8H570.82" class="e"/>
<rect x="603.06" y="755.91" width="21.2" height="59.28" fill="#0432ff"/>
<rect x="603.06" y="814.89" width="21.2" height="17.51" fill="#ff0000"/>
<path d="M613.66 746.86V764.38M610.66 746.86H616.66M610.66 764.38H616.66" class="e"/>
<path d="M613.66 812.26V817.23M610.66 812.26H616.66M610.66 817.23H616.66" class="e"/>
<rect x="648.9" y="788.32" width="21.2" height="26.87" fill="#0432ff"/>
<rect x="648.9" y="814.89" width="21.2" height="17.51" fill="#ff0000"/>
<path d="M659.5 784.23V792.12M656.5 784.23H662.5M656.5 792.12H662.5" class="e"/>
<path d="M659.5 812.26V817.23M656.5 812.26H662.5M656.5 817.23H662.5" class="e"/>
<text x="659.2" y="780.7" class="s">*</text>
<path d="M499.1 726.8V832.9M495.5 832.4H682.96M495.5 811.38H499.1M495.5 790.36H499.1M495.5 769.34H499.1M495.5 748.32H499.1M495.5 727.3H499.1M499.1 832.4V836.4M544.94 832.4V836.4M590.78 832.4V836.4M636.62 832.4V836.4M682.46 832.4V836.4" class="a"/>
<text x="491.85" y="836.35" class="t">0</text>
<text x="491.85" y="815.33" class="t">1</text>
<text x="491.85" y="794.31" class="t">2</text>
<text x="491.85" y="773.29" class="t">3</text>
<text x="491.85" y="752.27" class="t">4</text>
<text x="491.85" y="731.25" class="t">5</text>
</g>
<text transform="translate(31.1 76.12) rotate(-90)" class="g">Kcnq1ot1</text>
<text transform="translate(31.3 191.7) rotate(-90)" class="g">Osbpl5</text>
<text transform="translate(31.1 309) rotate(-90)" class="g">Phlda2</text>
<text transform="translate(31.1 426) rotate(-90)" class="g">Slc22a18</text>
<text transform="translate(31.7 543.35) rotate(-90)" class="g">Cdkn1c</text>
<text transform="translate(31.3 661.12) rotate(-90)" class="g">Kcnq1</text>
<text transform="translate(31.3 781.55) rotate(-90)" class="g">Cd81</text>
<text transform="translate(9.5 428.3) rotate(-90)" class="yl">Allelic enrichment levels</text>
<text x="80.32" y="850.2" class="x">siNT</text>
<text x="126.26" y="850.2" class="x">si107+62</text>
<text x="172.7" y="850.2" class="x">si98/96</text>
<text x="218.14" y="850.2" class="x">si153</text>
<text x="148.78" y="867.8" class="x">KMT2A</text>
<text x="300.12" y="850" class="x">siNT</text>
<text x="346.26" y="850" class="x">si107+62</text>
<text x="392.4" y="850" class="x">si98/96</text>
<text x="438.74" y="850" class="x">si153</text>
<text x="370.78" y="867.6" class="x">EHMT2</text>
<text x="522.42" y="849.1" class="x">siNT</text>
<text x="568.26" y="849.1" class="x">si107+62</text>
<text x="614.1" y="849.1" class="x">si98/96</text>
<text x="660.14" y="849.1" class="x">si153</text>
<text x="590.58" y="866.7" class="x">EZH2</text>
<text x="-0.6" y="10.5" class="pl">a</text>
<text x="251.9" y="10.4" class="pl">b</text>
<text x="468.7" y="10.2" class="pl">c</text>
<rect x="633.3" y="6.8" width="5.9" height="5.7" fill="#ff0000"/>
<rect x="633.3" y="20.5" width="5.9" height="5.8" fill="#0432ff"/>
<text x="641.6" y="12.7" class="lg">Maternal</text>
<text x="641.8" y="26.7" class="lg">Paternal</text>
</svg>
</body>
</html>
